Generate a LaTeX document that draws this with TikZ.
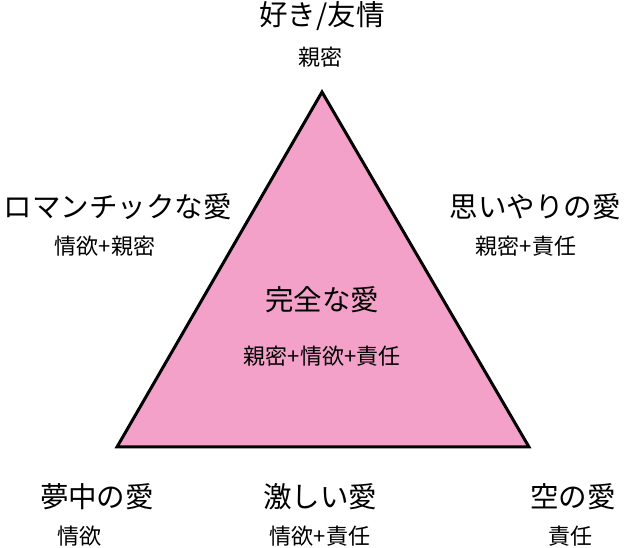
\documentclass[tikz,border=0pt]{standalone}
\usepackage{fontspec}
\newfontfamily\jpfont{Noto Sans CJK JP}
\definecolor{lovepink}{RGB}{243,161,201}
\tikzset{
  bigtext/.style={font=\jpfont\fontsize{28.5}{32}\selectfont, inner sep=0pt},
  smalltext/.style={font=\jpfont\fontsize{22}{26}\selectfont, inner sep=0pt}
}
\begin{document}
\begin{tikzpicture}[x=1pt,y=1pt]
  \useasboundingbox (0,0) rectangle (625,548);

  % Draw triangle
  \coordinate (top) at (322,456);
  \coordinate (left) at (117,101);
  \coordinate (right) at (529,101);
  \filldraw[fill=lovepink, draw=black, line width=3pt, line join=miter] (top) -- (left) -- (right) -- cycle;

  % Corner labels
  \node[bigtext] (liking) at (322,532) {好き/友情};
  \node[smalltext] (liking2) at (320,491) {親密};

  \node[bigtext] (romantic) at (118,341) {ロマンチックな愛};
  \node[smalltext] (romantic2) at (105,302) {情欲+親密};

  \node[bigtext] (compan) at (535,341) {思いやりの愛};
  \node[smalltext] (compan2) at (526,302) {親密+責任};

  % Centre
  \node[bigtext] (consum) at (322,248) {完全な愛};
  \node[smalltext] (consum2) at (322,192) {親密+情欲+責任};

  % Bottom row
  \node[bigtext] (infat) at (97,51) {夢中の愛};
  \node[smalltext] (infat2) at (79,12) {情欲};

  \node[bigtext] (fatuous) at (320,51) {激しい愛};
  \node[smalltext] (fatuous2) at (320,12) {情欲+責任};

  \node[bigtext] (empty) at (573,51) {空の愛};
  \node[smalltext] (empty2) at (570,12) {責任};
\end{tikzpicture}
\end{document}
